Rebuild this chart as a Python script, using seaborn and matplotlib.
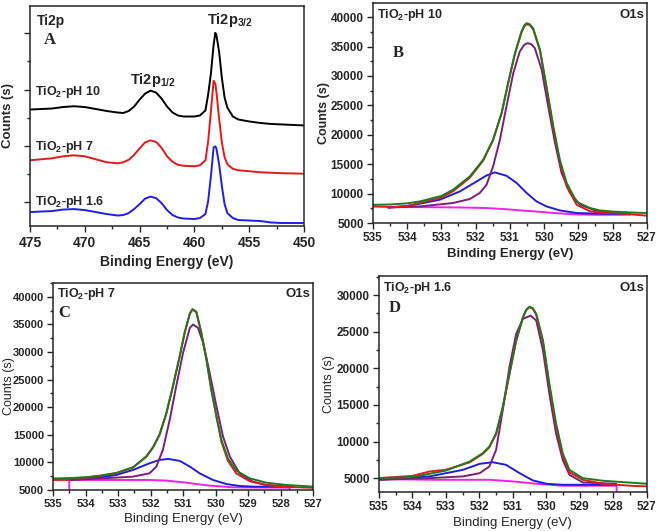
#!/usr/bin/env python3

import matplotlib
matplotlib.use("Agg")
import matplotlib.pyplot as plt
from matplotlib.ticker import MultipleLocator, AutoMinorLocator
import seaborn as sns

# panel A - Ti2p, stacked spectra (arbitrary counts)
ti_energy = [475, 474, 473, 472, 471, 470, 469, 468, 467, 466.5, 466, 465.5, 465,
             464.5, 464, 463.5, 463, 462.5, 462, 461.5, 461, 460, 459.5, 459,
             458.75, 458.5, 458.25, 458.1, 458.0, 457.75, 457.5, 457.25, 457,
             456.5, 456, 455, 454, 453, 452, 451, 450]
ti_ph10 = [117, 117.5, 118, 119.5, 120.3, 119.5, 117.5, 115.5, 114, 113.5, 115.5, 120, 127,
           133, 136, 134, 128, 120, 114, 111, 110, 110, 111, 116,
           132, 153, 182, 194, 192, 175, 149, 129, 119,
           110, 107, 105, 103.5, 102.5, 102, 101.5, 101]
ti_ph7 = [66, 67, 68, 70, 71, 70, 67, 64, 63, 64, 66.5, 71.5, 78,
          84, 86, 84.5, 78.5, 70, 64.5, 61.5, 60.5, 60, 61, 66,
          85, 115, 146, 143, 135, 108, 84, 69, 62,
          57.5, 56, 55, 54, 53.5, 53, 52.8, 52.5]
ti_ph16 = [14, 14.5, 15, 16.5, 17, 16, 14, 12, 10.5, 11, 13, 17, 22,
           27.5, 29.5, 28, 23, 16, 11, 8.5, 7.5, 7, 8, 12,
           25, 50, 79, 80, 78, 62, 40, 22, 13,
           8, 6, 5.5, 5, 3.5, 3, 3, 3]

# panel B - O1s, pH 10
b_env_e = [535.0, 534.5, 534.0, 533.63, 533.0, 532.66, 532.17, 531.78, 531.49, 531.24, 531.05,
           530.85, 530.66, 530.58, 530.51, 530.42, 530.32, 530.12, 529.93, 529.73, 529.54,
           529.34, 529.05, 528.66, 528.37, 528.0, 527.5, 527.0]
b_env = [8100, 8150, 8350, 8670, 9600, 10660, 12920, 15750, 19150, 23690, 28790,
         33880, 37550, 38600, 38980, 38800, 38130, 34450, 28210, 21410, 15750,
         11800, 8600, 7550, 7140, 6950, 6800, 6700]
b_raw_e = [535.0, 534.6, 534.55, 534.0, 533.63, 533.0, 532.66, 532.17, 531.78, 531.49, 531.24,
           531.05, 530.85, 530.66, 530.58, 530.51, 530.42, 530.32, 530.12, 529.93, 529.73,
           529.54, 529.34, 529.05, 528.66, 528.37, 528.0, 527.5, 527.0]
b_raw = [7800, 7750, 7600, 7900, 8400, 9350, 10400, 12700, 15600, 19100, 23700,
         28800, 33800, 37400, 38400, 38800, 38650, 37950, 34300, 28000, 21100,
         15300, 11200, 8100, 7000, 6750, 6700, 6500, 6250]
b_lat_e = [534.55, 534.0, 533.63, 532.66, 532.17, 531.88, 531.68, 531.49, 531.29, 531.10, 530.90,
           530.71, 530.58, 530.48, 530.37, 530.27, 530.07, 529.88, 529.68, 529.49, 529.24,
           528.95, 528.56, 528.37, 528.0, 527.5]
b_lat = [7650, 7750, 7820, 8400, 9080, 10100, 11510, 14620, 19150, 24810, 30480,
         34160, 35300, 35580, 35400, 34730, 31050, 24810, 18590, 13500, 10100,
         8110, 7260, 6970, 6750, 6600]
b_oh_e = [534.55, 534.0, 533.63, 533.05, 532.46, 531.97, 531.68, 531.44, 531.10, 530.80,
          530.51, 530.22, 529.93, 529.54, 529.05, 528.37, 527.5]
b_oh = [7650, 7900, 8280, 8960, 10370, 12070, 13090, 13600, 13040, 11800,
        10100, 8670, 7820, 7140, 6700, 6580, 6550]
b_bg_e = [534.55, 533.63, 532.5, 531.68, 531.0, 530.71, 530.0, 529.73, 529.0, 528.5, 527.5]
b_bg = [7700, 7700, 7650, 7550, 7300, 7150, 6850, 6700, 6450, 6400, 6400]

# panel C - O1s, pH 7
c_env_e = [535.0, 534.5, 534.0, 533.56, 533.05, 532.54, 532.13, 531.92, 531.72, 531.51, 531.31,
           531.10, 530.95, 530.79, 530.71, 530.59, 530.44, 530.28, 530.13, 529.97, 529.82,
           529.62, 529.36, 528.95, 528.44, 527.82, 527.0]
c_env = [7100, 7150, 7300, 7600, 8100, 9120, 11000, 12700, 15000, 18900, 23770,
         29210, 33450, 36900, 37690, 37200, 33450, 28610, 23160, 18320, 14080,
         10750, 8510, 7120, 6330, 5910, 5610]
c_raw_e = [535.0, 534.52, 534.5, 534.0, 533.56, 533.05, 532.54, 532.13, 531.92, 531.72, 531.51,
           531.31, 531.10, 530.95, 530.79, 530.71, 530.59, 530.44, 530.28, 530.13, 529.97,
           529.82, 529.62, 529.36, 528.95, 528.44, 527.82, 527.0]
c_raw = [6820, 6820, 7100, 7250, 7550, 8050, 9050, 11100, 12800, 15100, 19000,
         23850, 29300, 33500, 37000, 37750, 37300, 33600, 28700, 23200, 18200,
         13800, 10300, 8000, 6600, 5900, 5550, 5400]
c_lat_e = [534.49, 533.5, 532.54, 532.03, 531.82, 531.62, 531.41, 531.21, 531.0, 530.79, 530.69,
           530.54, 530.38, 530.18, 529.97, 529.77, 529.56, 529.26, 528.85, 528.44, 527.62]
c_lat = [6820, 7100, 7420, 8030, 9240, 12260, 17710, 23770, 29820, 34360, 34970,
         34360, 31640, 26190, 20130, 14690, 11050, 8030, 6510, 5910, 5610]
c_oh_e = [534.49, 533.56, 533.05, 532.54, 532.03, 531.72, 531.46, 531.10, 530.79, 530.49,
          530.08, 529.67, 529.26, 528.85, 527.62]
c_oh = [6820, 7300, 7720, 8630, 9840, 10450, 10630, 10270, 9240, 8030,
        6820, 6090, 5730, 5610, 5610]
c_bg_e = [534.5, 534.5, 532.03, 531.51, 530.9, 530.28, 529.46, 527.72, 527.72]
c_bg = [5000, 6820, 6820, 6700, 6330, 5850, 5480, 5420, 5000]

# panel D - O1s, pH 1.6
d_env_e = [535.0, 533.99, 532.99, 532.29, 531.90, 531.70, 531.50, 531.30, 531.10, 530.90, 530.70,
           530.60, 530.50, 530.40, 530.30, 530.10, 529.91, 529.71, 529.51, 529.31, 528.91,
           528.31, 527.0]
d_env = [5000, 5140, 6040, 7260, 8400, 9300, 11110, 14740, 19270, 23800, 26970,
         28000, 28420, 28200, 27420, 23800, 17910, 12470, 8400, 6130, 5000,
         4640, 4230]
d_raw_e = [535.0, 534.0, 533.49, 532.99, 532.29, 531.90, 531.70, 531.50, 531.30, 531.10, 530.90,
           530.70, 530.60, 530.50, 530.40, 530.30, 530.10, 529.91, 529.71, 529.51, 529.31,
           528.91, 528.31, 527.51, 527.0]
d_raw = [5000, 5300, 5900, 6150, 7150, 8300, 9200, 11000, 14650, 19200, 23750,
         26900, 27950, 28350, 28100, 27300, 23600, 17600, 12100, 8000, 5800,
         4770, 4230, 3960, 3870]
d_lat_e = [535.0, 533.49, 532.49, 531.99, 531.70, 531.50, 531.30, 531.10, 530.90, 530.70,
           530.47, 530.30, 530.10, 529.91, 529.71, 529.51, 529.31, 528.91, 527.92]
d_lat = [4770, 5000, 5230, 5680, 6590, 8850, 14290, 20170, 24700, 26740,
         27190, 26520, 22440, 16550, 11110, 7490, 5450, 4410, 4230]
d_oh_e = [535.0, 533.49, 532.49, 531.99, 531.60, 531.20, 530.80, 530.40, 530.0, 529.51, 527.92]
d_oh = [4770, 5230, 6130, 6950, 7170, 6810, 5680, 4680, 4230, 4090, 4090]
d_bg_e = [535.0, 533.29, 531.70, 531.0, 530.30, 529.51, 527.9, 527.9]
d_bg = [4860, 4770, 4770, 4550, 4230, 3960, 3960, 3000]

RED = "#e31a1c"
BLUE = "#1f1fe0"
GREEN = "#1e7a1e"
PURPLE = "#7a1f7a"
MAGENTA = "#f020f0"

sns.set_style("ticks")
plt.rcParams["font.family"] = ["Liberation Sans", "DejaVu Sans"]
plt.rcParams["font.weight"] = "bold"
plt.rcParams["mathtext.default"] = "regular"
plt.rcParams["axes.linewidth"] = 1.1


def line(ax, x, y, color):
    sns.lineplot(x=x, y=y, ax=ax, color=color, lw=1.4, sort=False, estimator=None)


def ticks(ax, size, pad=3.5):
    ax.tick_params(which="major", direction="out", length=4, width=1, labelsize=size, pad=pad)
    ax.tick_params(which="minor", direction="out", length=2, width=1)
    for lab in ax.get_xticklabels() + ax.get_yticklabels():
        lab.set_fontweight("bold")


def o1s_panel(ax, series, ylim, ymax_tick, label, letter, weight, label_x, tick_size):
    for x, y, c in series:
        line(ax, x, y, c)
    ax.set_xlim(535, 527)
    ax.set_ylim(*ylim)
    ax.xaxis.set_major_locator(MultipleLocator(1))
    ax.xaxis.set_minor_locator(AutoMinorLocator(2))
    ax.set_yticks(range(5000, ymax_tick + 1, 5000))
    ax.yaxis.set_minor_locator(AutoMinorLocator(2))
    ticks(ax, tick_size, pad=2.5)
    ax.set_xlabel("Binding Energy (eV)", fontsize=9.5, fontweight=weight, labelpad=3)
    ax.set_ylabel("Counts (s)", fontsize=9, fontweight=weight)
    ax.yaxis.set_label_coords(label_x, 0.5)
    ax.text(0.015, 0.945, label, transform=ax.transAxes, fontsize=9, fontweight="bold",
            va="center", ha="left")
    ax.text(0.99, 0.945, "O1s", transform=ax.transAxes, fontsize=9.5, fontweight="bold",
            va="center", ha="right")
    ax.text(letter[0], letter[1], letter[2], transform=ax.transAxes, fontsize=12,
            fontweight="bold", family="Liberation Serif", va="center", ha="left")


fig = plt.figure(figsize=(6.6, 5.31), dpi=100)
ax_a = fig.add_axes([0.0455, 0.5744, 0.4152, 0.4143])
ax_b = fig.add_axes([0.565, 0.580, 0.415, 0.4143])
ax_c = fig.add_axes([0.0803, 0.0772, 0.394, 0.390])
ax_d = fig.add_axes([0.574, 0.0734, 0.406, 0.4068])

# A
line(ax_a, ti_energy, ti_ph10, "black")
line(ax_a, ti_energy, ti_ph7, RED)
line(ax_a, ti_energy, ti_ph16, BLUE)
ax_a.set_xlim(475, 450)
ax_a.set_ylim(0, 221)
ax_a.xaxis.set_major_locator(MultipleLocator(5))
ax_a.xaxis.set_minor_locator(AutoMinorLocator(2))
ax_a.yaxis.set_major_locator(MultipleLocator(56.7, offset=23.7))
ax_a.yaxis.set_minor_locator(AutoMinorLocator(2))
ticks(ax_a, 10)
ax_a.set_yticklabels([])
ax_a.set_xlabel("Binding Energy (eV)", fontsize=10, fontweight="bold", labelpad=3)
ax_a.set_ylabel("Counts (s)", fontsize=9.5, fontweight="bold")
ax_a.yaxis.set_label_coords(-0.058, 0.5)
ax_a.text(0.026, 0.93, "Ti2p", transform=ax_a.transAxes, fontsize=10, va="center")
ax_a.text(0.05, 0.845, "A", transform=ax_a.transAxes, fontsize=12, family="Liberation Serif",
          fontweight="bold", va="center")
ax_a.text(0.646, 0.936, "Ti2p$_{3/2}$", transform=ax_a.transAxes, fontsize=10.5, va="center")
ax_a.text(0.365, 0.664, "Ti2p$_{1/2}$", transform=ax_a.transAxes, fontsize=10.5, va="center")
ax_a.text(0.018, 0.609, "TiO$_2$-pH 10", transform=ax_a.transAxes, fontsize=9, va="center")
ax_a.text(0.018, 0.359, "TiO$_2$-pH 7", transform=ax_a.transAxes, fontsize=9, va="center")
ax_a.text(0.018, 0.109, "TiO$_2$-pH 1.6", transform=ax_a.transAxes, fontsize=9, va="center")

o1s_panel(ax_b, [(b_bg_e, b_bg, MAGENTA), (b_oh_e, b_oh, BLUE), (b_lat_e, b_lat, PURPLE),
                 (b_raw_e, b_raw, RED), (b_env_e, b_env, GREEN)],
          (5000, 42400), 40000, "TiO$_2$-pH 10", (0.073, 0.773, "B"), "bold", -0.157, 8.5)
o1s_panel(ax_c, [(c_bg_e, c_bg, MAGENTA), (c_oh_e, c_oh, BLUE), (c_lat_e, c_lat, PURPLE),
                 (c_raw_e, c_raw, RED), (c_env_e, c_env, GREEN)],
          (5000, 42500), 40000, "TiO$_2$-pH 7", (0.02, 0.855, "C"), "normal", -0.148, 8)
o1s_panel(ax_d, [(d_bg_e, d_bg, MAGENTA), (d_oh_e, d_oh, BLUE), (d_lat_e, d_lat, PURPLE),
                 (d_raw_e, d_raw, RED), (d_env_e, d_env, GREEN)],
          (3100, 32600), 30000, "TiO$_2$-pH 1.6", (0.035, 0.853, "D"), "normal", -0.164, 8.5)

fig.savefig("out.png", dpi=100)
